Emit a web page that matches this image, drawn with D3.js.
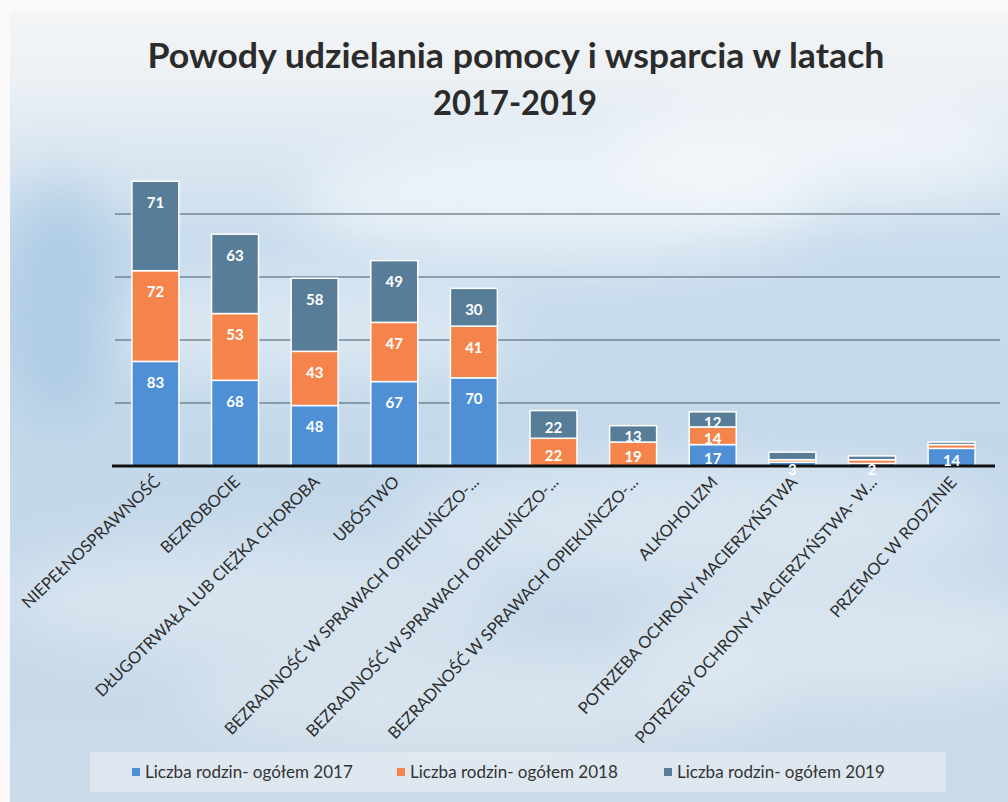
<!DOCTYPE html>
<html>
<head>
<meta charset="utf-8">
<script src="https://cdn.jsdelivr.net/npm/d3@7"></script>
<style>
  html, body { margin: 0; padding: 0; background: #ffffff; }
  svg { display: block; }
</style>
</head>
<body>
<svg id="chart" width="1008" height="802"></svg>
<script>
// ---------------- data ----------------
const categories = [
  "NIEPEŁNOSPRAWNOŚĆ",
  "BEZROBOCIE",
  "DŁUGOTRWAŁA LUB CIĘŻKA CHOROBA",
  "UBÓSTWO",
  "BEZRADNOŚĆ W SPRAWACH OPIEKUŃCZO-...",
  "BEZRADNOŚĆ W SPRAWACH OPIEKUŃCZO-...",
  "BEZRADNOŚĆ W SPRAWACH OPIEKUŃCZO-...",
  "ALKOHOLIZM",
  "POTRZEBA OCHRONY MACIERZYŃSTWA",
  "POTRZEBY OCHRONY MACIERZYŃSTWA- W...",
  "PRZEMOC W RODZINIE"
];
const values2017 = [83, 68, 48, 67, 70, 0, 0, 17, 3, 2, 14];
const values2018 = [72, 53, 43, 47, 41, 22, 19, 14, 2, 3, 3];
const values2019 = [71, 63, 58, 49, 30, 22, 13, 12, 6, 3, 2];
const seriesNames = ["Liczba rodzin- ogółem 2017", "Liczba rodzin- ogółem 2018", "Liczba rodzin- ogółem 2019"];
const seriesColors = ["#4f8fd6", "#f5844c", "#587d98"];
const gridTicks = [50, 100, 150, 200];
const titleLines = ["Powody udzielania pomocy i wsparcia w latach", "2017-2019"];

// ---------------- setup ----------------
const svg = d3.select("#chart");
const W = 1008, H = 802;
const FONT = "Lato, 'Open Sans', sans-serif";
const defs = svg.append("defs");

// background (photo of a slide with a sky backdrop)
const bg = defs.append("linearGradient").attr("id", "bg").attr("x1", 0).attr("y1", 0).attr("x2", 0).attr("y2", 1);
[[0, "#f4f5f6"], [0.08, "#eef2f5"], [0.17, "#dfe9f2"], [0.3, "#cadded"], [0.55, "#c3d8ea"], [0.8, "#c6d8e8"], [1, "#cbdbe8"]]
  .forEach(([o, c]) => bg.append("stop").attr("offset", o).attr("stop-color", c));
svg.append("rect").attr("width", W).attr("height", H).attr("fill", "url(#bg)");

const blur = defs.append("filter").attr("id", "soft").attr("x", "-50%").attr("y", "-50%").attr("width", "200%").attr("height", "200%");
blur.append("feGaussianBlur").attr("stdDeviation", 28);
const clouds = [
  [560, 200, 260, 60, 0.55], [820, 150, 200, 50, 0.5], [300, 330, 220, 50, 0.35],
  [700, 520, 300, 60, 0.35], [250, 600, 260, 60, 0.3], [850, 640, 220, 60, 0.35],
  [480, 700, 300, 50, 0.3], [60, 300, 60, 120, -1]
];
clouds.forEach(([cx, cy, rx, ry, op]) => {
  svg.append("ellipse").attr("cx", cx).attr("cy", cy).attr("rx", rx).attr("ry", ry)
    .attr("fill", op < 0 ? "#9fc2e0" : "#ffffff").attr("opacity", op < 0 ? 0.6 : op)
    .attr("filter", "url(#soft)");
});
// photo edges
svg.append("rect").attr("x", 0).attr("y", 0).attr("width", 10).attr("height", H).attr("fill", "#fafafa");
svg.append("rect").attr("x", 0).attr("y", 0).attr("width", W).attr("height", 12).attr("fill", "#fafafa");

// ---------------- title ----------------
const title = svg.append("g").attr("font-family", FONT).attr("font-weight", 700)
  .attr("fill", "#2b2b2b").attr("text-anchor", "middle");
title.append("text").attr("x", 516).attr("y", 68).attr("font-size", 34)
  .attr("textLength", 737).attr("lengthAdjust", "spacingAndGlyphs").text(titleLines[0]);
title.append("text").attr("x", 515).attr("y", 115).attr("font-size", 34)
  .attr("textLength", 164).attr("lengthAdjust", "spacingAndGlyphs").text(titleLines[1]);

// ---------------- scales ----------------
const x = d3.scaleBand().domain(d3.range(categories.length)).range([116, 991]).paddingInner(0.41).paddingOuter(0.2);
const y = d3.scaleLinear().domain([0, 250]).range([466, 151]);

// gridlines
svg.append("g").selectAll("line").data(gridTicks).join("line")
  .attr("x1", 115).attr("x2", 1000)
  .attr("y1", d => y(d)).attr("y2", d => y(d))
  .attr("stroke", "#5f6f7c").attr("stroke-width", 1.6).attr("opacity", 0.8);

// stacked bars
const rows = categories.map((c, i) => ({ i, s0: values2017[i], s1: values2018[i], s2: values2019[i] }));
const stack = d3.stack().keys(["s0", "s1", "s2"]);
const series = stack(rows);

const barG = svg.append("g");
series.forEach((ser, si) => {
  barG.append("g").selectAll("rect").data(ser).join("rect")
    .attr("x", d => x(d.data.i))
    .attr("width", x.bandwidth())
    .attr("y", d => y(d[1]))
    .attr("height", d => Math.max(0, y(d[0]) - y(d[1])))
    .attr("fill", seriesColors[si])
    .attr("stroke", "#ffffff").attr("stroke-width", d => (d[1] - d[0]) > 0 ? 1.5 : 0);
});

// baseline axis
svg.append("line").attr("x1", 112).attr("x2", 995).attr("y1", y(0)).attr("y2", y(0))
  .attr("stroke", "#111").attr("stroke-width", 3);

// value labels (near the top of each segment, as in the reference)
const labG = svg.append("g").attr("font-family", FONT).attr("font-weight", 700)
  .attr("font-size", 15).attr("fill", "#ffffff").attr("text-anchor", "middle");
const MIN_H = 12;
const labelled = new Set();
const labelY = d => Math.min(y(d[1]) + 21, (y(d[0]) + y(d[1])) / 2 + 3);
series.forEach((ser) => {
  const shown = ser.filter(d => d[1] - d[0] > 0 && (y(d[0]) - y(d[1])) >= MIN_H);
  shown.forEach(d => labelled.add(d.data.i));
  labG.append("g").selectAll("text").data(shown).join("text")
    .attr("x", d => x(d.data.i) + x.bandwidth() / 2)
    .attr("y", labelY)
    .attr("dy", "0.36em")
    .text(d => d[1] - d[0]);
});
// bars too small for inner labels: one label sitting on the baseline
labG.append("g").selectAll("text").data(rows.filter(r => !labelled.has(r.i))).join("text")
  .attr("x", r => x(r.i) + x.bandwidth() / 2)
  .attr("y", y(0) + 4)
  .attr("dy", "0.36em")
  .text(r => r.s0);

// category labels
const catG = svg.append("g").attr("font-family", FONT).attr("font-size", 16.5)
  .attr("fill", "#2e2e2e").attr("text-anchor", "end");
catG.selectAll("text").data(categories).join("text")
  .attr("transform", (d, i) => `translate(${x(i) + x.bandwidth() / 2 + 6},${y(0) + 17}) rotate(${-(43.5 + i * 0.5)})`)
  .text(d => d);

// legend
const lg = svg.append("g");
lg.append("rect").attr("x", 90).attr("y", 752).attr("width", 856).attr("height", 40)
  .attr("fill", "#e4ebf2").attr("opacity", 0.75);
const legendX = [132, 397, 664];
seriesNames.forEach((n, i) => {
  lg.append("rect").attr("x", legendX[i]).attr("y", 768).attr("width", 8).attr("height", 8).attr("fill", seriesColors[i]);
  lg.append("text").attr("x", legendX[i] + 13).attr("y", 778)
    .attr("font-family", FONT).attr("font-size", 17).attr("fill", "#333")
    .text(n);
});
</script>
</body>
</html>
